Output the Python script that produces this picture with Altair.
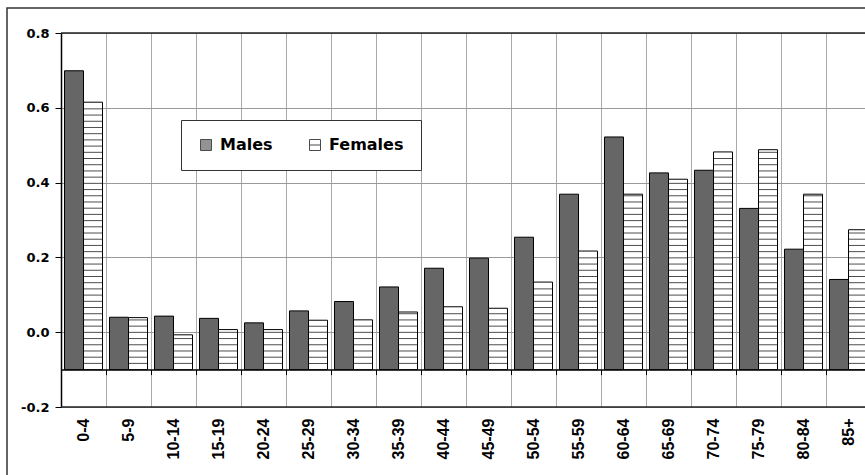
import altair as alt
import pandas as pd

ages = ["0-4", "5-9", "10-14", "15-19", "20-24", "25-29", "30-34", "35-39", "40-44",
        "45-49", "50-54", "55-59", "60-64", "65-69", "70-74", "75-79", "80-84", "85+"]
males = [0.699, 0.040, 0.043, 0.037, 0.025, 0.057, 0.082, 0.121, 0.171,
         0.198, 0.254, 0.369, 0.522, 0.426, 0.433, 0.331, 0.222, 0.141]
females = [0.615, 0.039, -0.007, 0.007, 0.007, 0.032, 0.033, 0.054, 0.068,
           0.064, 0.134, 0.217, 0.369, 0.409, 0.482, 0.488, 0.369, 0.274]
series = ["Males", "Females"]
y_ticks = [-0.2, 0.0, 0.2, 0.4, 0.6, 0.8]
frame_lines = [-0.2, 0.8]
baseline = -0.1

rows = []
for a, m, f in zip(ages, males, females):
    rows.append({"age": a, "sex": "Males", "value": m})
    rows.append({"age": a, "sex": "Females", "value": f})
df = pd.DataFrame(rows)

xscale = alt.Scale(domain=ages, range=[0, 810], paddingInner=0, paddingOuter=0)
yscale = alt.Scale(domain=[-0.2, 0.8], nice=False, zero=False)
offscale = alt.Scale(domain=series, paddingInner=0, paddingOuter=0.184)
fillscale = alt.Scale(domain=series, range=["#666666", "#ffffff"])
shapescale = alt.Scale(domain=series, range=["square", "M-1,-1H1V1H-1Z M-1,0H1"])

yaxis = alt.Axis(
    values=y_ticks,
    labelExpr="replace(format(datum.value, '.1f'), '\u2212', '-')",
    title=None, domainColor="black", domainWidth=1.5,
    tickColor="black", tickSize=6, labelPadding=6,
    labelFont="DejaVu Sans", labelFontWeight="bold", labelFontSize=13, labelColor="black",
    gridColor="#999999", gridWidth=1,
)

legend = alt.Legend(title=None, orient="none", legendX=120, legendY=87,
                    direction="horizontal", columns=2)

Y = lambda field: alt.Y(field, scale=yscale, axis=yaxis)

frame = alt.Chart(alt.Data(values=[{"k": 1}])).mark_rect(
    fill="transparent", stroke="#333333", strokeWidth=1.5
).encode(
    x=alt.value(-54), y=alt.value(-25), x2=alt.value(2000), y2=alt.value(2000)
)

edges = alt.Chart(pd.DataFrame({"v": frame_lines})).mark_rule(
    color="#222222", strokeWidth=1.5
).encode(y=Y("v:Q"))

bars = alt.Chart(df).mark_bar(stroke="black", strokeWidth=1).encode(
    x=alt.X("age:N", sort=ages, scale=xscale,
            axis=alt.Axis(title=None, labelAngle=-90, ticks=False, domain=False,
                          grid=True, tickBand="extent", gridColor="#aaaaaa",
                          labelPadding=11, labelFont="Liberation Sans",
                          labelFontWeight="bold", labelFontSize=16, labelColor="black")),
    xOffset=alt.XOffset("sex:N", scale=offscale, sort=series),
    y=Y("value:Q"),
    y2=alt.datum(baseline),
    fill=alt.Fill("sex:N", scale=fillscale, sort=series, legend=legend),
)

step = 0.0166
stripes = alt.Chart(df).transform_filter(
    "datum.sex == 'Females'"
).transform_calculate(
    s=f"sequence({baseline} + {step}, datum.value - 0.003, {step})"
).transform_flatten(["s"]).mark_tick(
    color="black", thickness=1, size=19
).encode(
    x=alt.X("age:N", sort=ages, scale=xscale,
            axis=alt.Axis(title=None, labels=False, grid=False, offset=-37.4,
                          orient="bottom",
                          domain=True, domainColor="black", domainWidth=1.5,
                          ticks=True, tickBand="extent", tickSize=5, tickColor="black")),
    xOffset=alt.XOffset("sex:N", scale=offscale, sort=series),
    y=Y("s:Q"),
)

legend_pts = alt.Chart(df).transform_filter("false").mark_point(filled=True).encode(
    x=alt.X("age:N", sort=ages, scale=xscale, axis=None),
    y=Y("value:Q"),
    fill=alt.Fill("sex:N", scale=fillscale, sort=series, legend=legend),
    shape=alt.Shape("sex:N", scale=shapescale, sort=series, legend=legend),
)

chart = alt.layer(frame, bars, stripes, edges, legend_pts).resolve_axis(
    x="independent"
).properties(
    width=804, height=374,
    autosize=alt.AutoSizeParams(type="none"),
    padding={"left": 61, "top": 33, "right": 0, "bottom": 68},
    background="white",
).configure_view(
    stroke=None
).configure_legend(
    labelFont="DejaVu Sans", labelFontWeight="bold", labelFontSize=16, labelColor="black",
    symbolSize=121, symbolStrokeColor="black", symbolStrokeWidth=1,
    labelOffset=6, columnPadding=34, padding=17,
    strokeColor="#333333", fillColor="white", cornerRadius=0,
)

chart.save("out.html", embed_options={"renderer": "svg", "actions": False})
